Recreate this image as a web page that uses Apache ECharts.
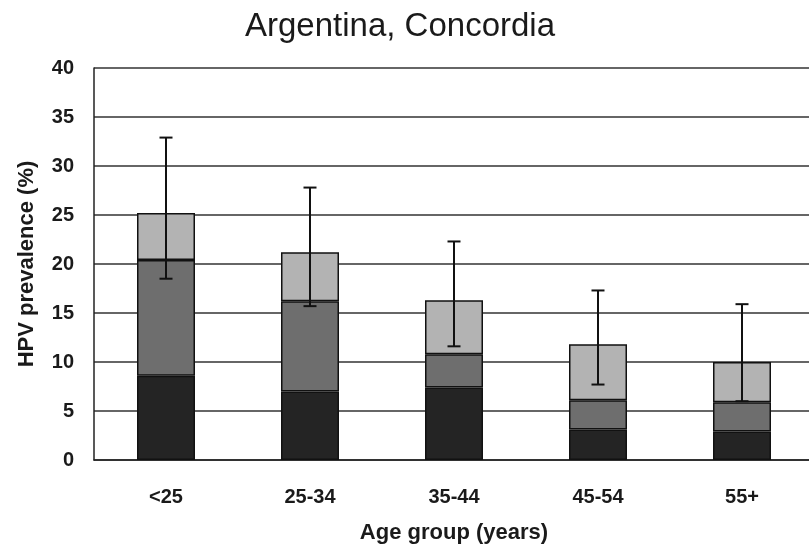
<!DOCTYPE html>
<html>
<head>
<meta charset="utf-8">
<title>Argentina, Concordia</title>
<script src="https://cdn.jsdelivr.net/npm/echarts@6/dist/echarts.min.js"></script>
<style>
  html, body { margin: 0; padding: 0; background: #fff; }
  #chart { width: 809px; height: 547px; }
</style>
</head>
<body>
<div id="chart"></div>
<script>
// Age groups on the x axis
const ageGroups = ['<25', '25-34', '35-44', '45-54', '55+'];

// Stacked segment heights (HPV prevalence, %)
const segmentBottom = [8.6, 7.0, 7.4, 3.1, 2.9];
const segmentMiddle = [11.8, 9.2, 3.4, 3.0, 3.0];
const segmentTop = [4.8, 5.0, 5.5, 5.7, 4.1];

// Confidence interval of the total prevalence
const ciLow = [18.5, 15.7, 11.6, 7.7, 6.0];
const ciHigh = [32.9, 27.8, 22.3, 17.3, 15.9];

// Y axis range
const yMin = 0;
const yMax = 40;
const yStep = 5;

const fontFamily = '"Liberation Sans", Arial, sans-serif';
const chart = echarts.init(document.getElementById('chart'));

const barBorder = { borderColor: '#111', borderWidth: 1.5 };

const errorData = ageGroups.map((g, i) => [i, ciLow[i], ciHigh[i]]);

chart.setOption({
  animation: false,
  backgroundColor: '#fff',
  title: {
    text: 'Argentina, Concordia',
    left: 240,
    top: 5,
    textStyle: { fontFamily, fontSize: 33, fontWeight: 'normal', color: '#1a1a1a' }
  },
  grid: { left: 94, top: 68, width: 720, height: 392, outerBoundsMode: 'none', containLabel: false },
  xAxis: {
    type: 'category',
    data: ageGroups,
    name: 'Age group (years)',
    nameLocation: 'middle',
    nameGap: 62,
    nameTextStyle: { fontFamily, fontSize: 22, fontWeight: 'bold', color: '#1a1a1a' },
    axisLine: { show: true, lineStyle: { color: '#222', width: 1.5 } },
    axisTick: { show: false },
    axisLabel: { margin: 27, fontFamily, fontSize: 20, fontWeight: 'bold', color: '#1a1a1a' }
  },
  yAxis: {
    type: 'value',
    min: yMin,
    max: yMax,
    interval: yStep,
    name: 'HPV prevalence (%)',
    nameLocation: 'middle',
    nameGap: 56,
    nameTextStyle: { fontFamily, fontSize: 22, fontWeight: 'bold', color: '#1a1a1a' },
    axisLine: { show: true, lineStyle: { color: '#222', width: 1.5 } },
    axisTick: { show: false },
    axisLabel: { margin: 20, fontFamily, fontSize: 20, fontWeight: 'bold', color: '#1a1a1a' },
    splitLine: { show: true, lineStyle: { color: '#333', width: 1.6 } }
  },
  series: [
    {
      type: 'bar', stack: 'hpv', barWidth: 58,
      data: segmentBottom,
      itemStyle: Object.assign({ color: '#242424' }, barBorder)
    },
    {
      type: 'bar', stack: 'hpv', barWidth: 58,
      data: segmentMiddle,
      itemStyle: Object.assign({ color: '#6e6e6e' }, barBorder)
    },
    {
      type: 'bar', stack: 'hpv', barWidth: 58,
      data: segmentTop,
      itemStyle: Object.assign({ color: '#b3b3b3' }, barBorder)
    },
    {
      type: 'custom',
      z: 10,
      data: errorData,
      renderItem: function (params, api) {
        const x = api.value(0);
        const lo = api.coord([x, api.value(1)]);
        const hi = api.coord([x, api.value(2)]);
        const cap = 6.5;
        const style = { stroke: '#111', lineWidth: 2 };
        return {
          type: 'group',
          children: [
            { type: 'line', shape: { x1: lo[0], y1: lo[1], x2: hi[0], y2: hi[1] }, style },
            { type: 'line', shape: { x1: hi[0] - cap, y1: hi[1], x2: hi[0] + cap, y2: hi[1] }, style },
            { type: 'line', shape: { x1: lo[0] - cap, y1: lo[1], x2: lo[0] + cap, y2: lo[1] }, style }
          ]
        };
      }
    }
  ]
});
</script>
</body>
</html>
